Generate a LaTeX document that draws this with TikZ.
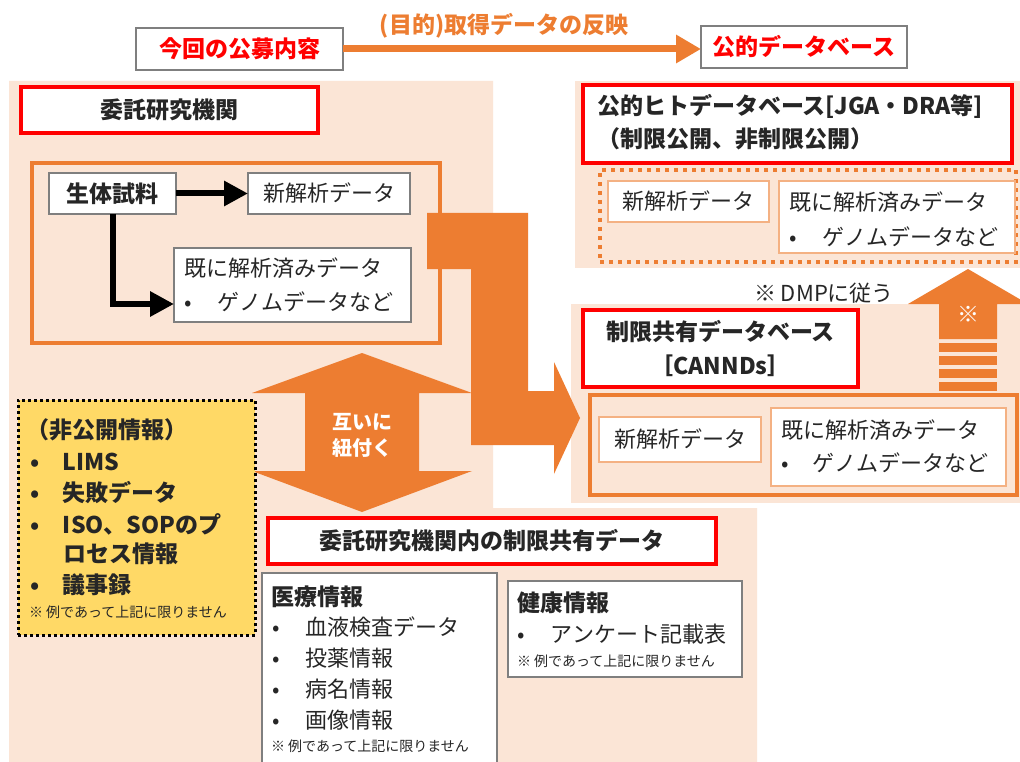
\documentclass[tikz,border=0pt]{standalone}
\usepackage{fontspec}
\setmainfont{Noto Sans CJK JP}
\usetikzlibrary{fit,arrows.meta}
\definecolor{peach}{HTML}{FBE5D6}
\definecolor{org}{HTML}{ED7D31}
\definecolor{lorg}{HTML}{F4B183}
\definecolor{ylw}{HTML}{FFD966}
\definecolor{gbd}{HTML}{7F7F7F}
\definecolor{txt}{HTML}{262626}
\newcommand{\jtb}{\fontsize{23}{30}\selectfont\bfseries}
\newcommand{\jtn}{\fontsize{22}{28}\selectfont}
\newcommand{\jts}{\fontsize{14}{18}\selectfont}
\newcommand{\jtw}{\fontsize{20}{26}\selectfont\bfseries}
\newcommand{\bul}[2]{\makebox[#1pt][l]{•}#2}
\begin{document}
\begin{tikzpicture}[x=1pt,y=-1pt,
  every node/.style={inner sep=0pt,outer sep=0pt,text=txt},
  gbox/.style={draw=gbd,line width=1.2pt,fill=white},
  rbox/.style={draw=red,line width=4.5pt,fill=white},
  obox/.style={draw=lorg,line width=1.2pt,fill=white},
  oframe/.style={draw=org,line width=4pt},
  blk/.style={line width=6pt,-{Triangle[length=24pt,width=24pt]}},
  tl/.style={anchor=west}]
\useasboundingbox (0,0) rectangle (1020,762);
\clip (0,0) rectangle (1020,762);
\fill[white] (0,0) rectangle (1020,762);
% background regions
\fill[peach] (9,81) -- (493,81) -- (493,508) -- (757,508) -- (757,762) -- (9,762) -- cycle;
\fill[peach] (575,81) rectangle (1020,268);
\fill[peach] (571,304) rectangle (1020,503);

% top
\node[gbox,fit={(136,28) (343,70)}] (koubo) {};
\node[font=\jtb,text=red] (kouboT) at (koubo.center) {今回の公募内容};
\node[gbox,fit={(701,26) (907,68)}] (pubdb) {};
\node[font=\jtb,text=red] (pubdbT) at (pubdb.center) {公的データベース};
\draw[org,line width=7pt,-{Triangle[length=25pt,width=27pt]}] (koubo.east) -- (koubo.east -| pubdb.west);
\node[font=\jtb,text=org] (lbl) at (504,26) {(目的)取得データの反映};

% left institution
\node[rbox,fit={(21,87) (318,133)}] (inst) {};
\node[font=\jtb] (instT) at (inst.center) {委託研究機関};
\node[oframe,fit={(32,163) (440,343)}] (frameL) {};
\node[gbox,fit={(49,173) (176,214)}] (bio) {};
\node[font=\jtb] (bioT) at (bio.center) {生体試料};
\node[gbox,fit={(248,173) (410,214)}] (new1) {};
\node[font=\jtn] (new1T) at (new1.center) {新解析データ};
\node[gbox,fit={(174,248) (411,322)}] (old1) {};
\node[tl,font=\jtn] (old1a) at (184,268) {既に解析済みデータ};
\node[tl,font=\jtn] (old1b) at (184,302) {\bul{34}{ゲノムデータなど}};
\draw[blk] (bio) -- (new1);
\coordinate (bend) at (113,304);
\draw[blk] (bio.south -| bend) |- (old1.west |- bend);

% big bent arrow
\fill[org] (427,213) -- (528,213) -- (528,391) -- (554,391) -- (554,362) -- (580,418) -- (554,474) -- (554,445) -- (471,445) -- (471,269) -- (427,269) -- cycle;

% double arrow
\fill[org] (362,353) -- (472,393) -- (419,393) -- (419,471) -- (472,471) -- (362,512) -- (252,471) -- (305,471) -- (305,393) -- (252,393) -- cycle;
\node[font=\jtw,text=white,align=center] (link) at (362,435) {互いに\\紐付く};

% yellow private info
\node[fill=ylw,draw=black,line width=3pt,dash pattern=on 3pt off 3pt,fit={(18,400) (255,635)}] (priv) {};
\node[tl,font=\jtb] (p0) at (26,430) {（非公開情報）};
\node[tl,font=\jtb] (p1) at (30,462) {\bul{33}{LIMS}};
\node[tl,font=\jtb] (p2) at (30,493) {\bul{33}{失敗データ}};
\node[tl,font=\jtb] (p3) at (30,524) {\bul{33}{ISO、SOPのプ}};
\node[tl,font=\jtb] (p4) at (63,554) {ロセス情報};
\node[tl,font=\jtb] (p5) at (30,585) {\bul{33}{議事録}};
\node[tl,font=\jts] (p6) at (29,612) {※ 例であって上記に限りません};

% bottom shared data
\node[rbox,fit={(268,518) (716,564)}] (share) {};
\node[font=\jtb] (shareT) at (share.center) {委託研究機関内の制限共有データ};
\node[gbox,fit={(262,573) (497,772)}] (med) {};
\node[tl,font=\jtb] (m0) at (271,597) {医療情報};
\node[tl,font=\jtn] (m1) at (272,627) {\bul{33}{血液検査データ}};
\node[tl,font=\jtn] (m2) at (272,658) {\bul{33}{投薬情報}};
\node[tl,font=\jtn] (m3) at (272,689) {\bul{33}{病名情報}};
\node[tl,font=\jtn] (m4) at (272,720) {\bul{33}{画像情報}};
\node[tl,font=\jts] (m5) at (271,746) {※ 例であって上記に限りません};
\node[gbox,fit={(508,581) (742,677)}] (hlth) {};
\node[tl,font=\jtb] (h0) at (517,603) {健康情報};
\node[tl,font=\jtn] (h1) at (517,634) {\bul{34}{アンケート記載表}};
\node[tl,font=\jts] (h2) at (517,661) {※ 例であって上記に限りません};

% right top public DB
\node[rbox,fit={(583,85) (1012,163)}] (hdb) {};
\node[tl,font=\jtb] (hd1) at (597,106) {公的ヒトデータベース[JGA・DRA等]};
\node[tl,font=\jtb] (hd2) at (597,139) {（制限公開、非制限公開）};
\node[draw=org,line width=3.5pt,dash pattern=on 4pt off 5pt,fit={(600,170) (1016,262)}] (dotfr) {};
\node[obox,fit={(608,181) (769,222)}] (new2) {};
\node[font=\jtn] (new2T) at (new2.center) {新解析データ};
\node[obox,fit={(779,181) (1015,253)}] (old2) {};
\node[tl,font=\jtn] (old2a) at (789,202) {既に解析済みデータ};
\node[tl,font=\jtn] (old2b) at (789,237) {\bul{34}{ゲノムデータなど}};

\node[font=\jtn] (dmp) at (824,293) {※ DMPに従う};

% right lower restricted DB
\node[rbox,fit={(583,310) (858,387)}] (cdb) {};
\node[font={\fontsize{23}{34}\selectfont\bfseries},align=center] (cdbT) at (cdb.center) {制限共有データベース\\［CANNDs］};
\node[oframe,fit={(590,395) (1017,495)}] (fr2) {};
\node[obox,fit={(599,417) (761,462)}] (new3) {};
\node[font=\jtn] (new3T) at (new3.center) {新解析データ};
\node[obox,fit={(771,408) (1006,486)}] (old3) {};
\node[tl,font=\jtn] (old3a) at (781,430) {既に解析済みデータ};
\node[tl,font=\jtn] (old3b) at (781,463) {\bul{32}{ゲノムデータなど}};

% striped up arrow
\fill[org] (968,269) -- (1028,304) -- (997,304) -- (997,339) -- (939,339) -- (939,304) -- (908,304) -- cycle;
\fill[org] (939,343) rectangle (997,352);
\fill[org] (939,356) rectangle (997,365);
\fill[org] (939,369) rectangle (997,378);
\fill[org] (939,382) rectangle (997,391);
\node[font=\jtn,text=white] (upnote) at (968,314) {※};
\end{tikzpicture}
\end{document}
